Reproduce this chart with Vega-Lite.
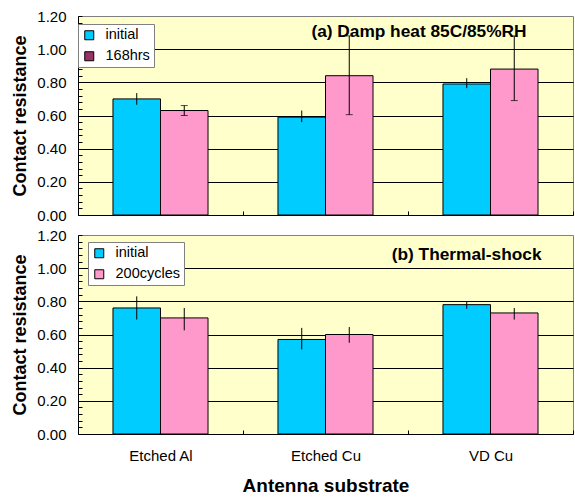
{
  "$schema": "https://vega.github.io/schema/vega-lite/v6.json",
  "background": "white",
  "padding": {"left": 11, "top": 8, "right": 0, "bottom": 5},
  "config": {
    "font": "Liberation Sans",
    "view": {"fill": "#FFFFCC", "stroke": "#808080", "strokeWidth": 1},
    "concat": {"spacing": 3},
    "axis": {
      "domainColor": "black",
      "domainWidth": 1,
      "tickColor": "black",
      "labelColor": "black",
      "titleColor": "black",
      "labelFont": "Liberation Sans",
      "titleFont": "Liberation Sans",
      "labelFontSize": 15,
      "titleFontSize": 18,
      "titleFontWeight": "bold"
    },
    "legend": {
      "labelFont": "Liberation Sans",
      "labelFontSize": 14.5,
      "labelColor": "black",
      "symbolType": "square",
      "symbolSize": 81,
      "symbolStrokeColor": "black",
      "symbolStrokeWidth": 1,
      "strokeColor": "#808080",
      "fillColor": "white",
      "padding": 4,
      "rowPadding": 6,
      "labelOffset": 9
    },
    "title": {"font": "Liberation Sans", "fontSize": 17.3, "fontWeight": "bold", "color": "black"}
  },
  "resolve": {"scale": {"fill": "independent", "xOffset": "independent"}, "legend": {"fill": "independent"}},
  "datasets": {
    "a": [
      {"substrate": "Etched Al", "series": "initial", "value": 0.70, "lo": 0.665, "hi": 0.735},
      {"substrate": "Etched Al", "series": "168hrs", "value": 0.63, "lo": 0.60, "hi": 0.66},
      {"substrate": "Etched Cu", "series": "initial", "value": 0.59, "lo": 0.56, "hi": 0.63},
      {"substrate": "Etched Cu", "series": "168hrs", "value": 0.84, "lo": 0.605, "hi": 1.08},
      {"substrate": "VD Cu", "series": "initial", "value": 0.79, "lo": 0.765, "hi": 0.825},
      {"substrate": "VD Cu", "series": "168hrs", "value": 0.88, "lo": 0.69, "hi": 1.08}
    ],
    "b": [
      {"substrate": "Etched Al", "series": "initial", "value": 0.76, "lo": 0.69, "hi": 0.83},
      {"substrate": "Etched Al", "series": "200cycles", "value": 0.70, "lo": 0.625, "hi": 0.76},
      {"substrate": "Etched Cu", "series": "initial", "value": 0.57, "lo": 0.51, "hi": 0.64},
      {"substrate": "Etched Cu", "series": "200cycles", "value": 0.60, "lo": 0.55, "hi": 0.645},
      {"substrate": "VD Cu", "series": "initial", "value": 0.78, "lo": 0.755, "hi": 0.80},
      {"substrate": "VD Cu", "series": "200cycles", "value": 0.73, "lo": 0.69, "hi": 0.76}
    ]
  },
  "vconcat": [
    {
      "width": 495,
      "height": 199,
      "data": {"name": "a"},
      "title": {"text": "(a) Damp heat 85C/85%RH", "orient": "top", "anchor": "end", "offset": -31, "dx": -47},
      "resolve": {"axis": {"y": "independent"}},
      "encoding": {
        "x": {
          "field": "substrate", "type": "nominal", "sort": ["Etched Al", "Etched Cu", "VD Cu"],
          "scale": {"paddingInner": 0.424, "paddingOuter": 0.212},
          "axis": {"labels": false, "title": null, "tickOffset": 82.5, "tickSize": -4, "domainColor": "black"}
        },
        "xOffset": {"field": "series", "type": "nominal", "sort": ["initial", "168hrs"]}
      },
      "layer": [
        {
          "mark": {"type": "bar", "stroke": "black", "strokeWidth": 1},
          "encoding": {
            "y": {
              "field": "value", "type": "quantitative",
              "scale": {"domain": [0, 1.2], "nice": false},
              "axis": {"orient": "left", "values": [0.2, 0.4, 0.6, 0.8, 1.0], "grid": true, "gridColor": "black", "gridWidth": 1, "gridOpacity": 1, "ticks": false, "labels": false, "domain": false, "title": null}
            },
            "fill": {
              "condition": {"test": "datum.series === '168hrs'", "value": "#FF99CC"},
              "field": "series", "type": "nominal",
              "scale": {"domain": ["initial", "168hrs"], "range": ["#00CCFF", "#993366"]},
              "legend": {"title": null, "orient": "none", "legendX": 0, "legendY": 8}
            }
          }
        },
        {
          "mark": {"type": "rule", "color": "black", "strokeWidth": 1},
          "encoding": {
            "y": {
              "field": "lo", "type": "quantitative",
              "axis": {
                "orient": "left",
                "title": "Contact resistance",
                "titlePadding": 7,
                "values": [0,0.04,0.08,0.12,0.16,0.2,0.24,0.28,0.32,0.36,0.4,0.44,0.48,0.52,0.56,0.6,0.64,0.68,0.72,0.76,0.8,0.84,0.88,0.92,0.96,1,1.04,1.08,1.12,1.16,1.2],
                "labelExpr": "round(datum.value * 100) % 20 === 0 ? format(datum.value, '.2f') : ''",
                "labelOverlap": false,
                "grid": false,
                "tickSize": -4,
                "labelPadding": 16
              }
            },
            "y2": {"field": "hi"}
          }
        },
        {
          "transform": [{"filter": "datum.series === '168hrs'"}],
          "mark": {"type": "tick", "orient": "horizontal", "size": 7, "thickness": 1, "color": "black"},
          "encoding": {"y": {"field": "lo", "type": "quantitative", "axis": null}}
        },
        {
          "transform": [{"filter": "datum.series === '168hrs'"}],
          "mark": {"type": "tick", "orient": "horizontal", "size": 7, "thickness": 1, "color": "black"},
          "encoding": {"y": {"field": "hi", "type": "quantitative", "axis": null}}
        }
      ]
    },
    {
      "width": 495,
      "height": 199,
      "data": {"name": "b"},
      "title": {"text": "(b) Thermal-shock", "orient": "top", "anchor": "end", "offset": -35, "dx": -32},
      "resolve": {"axis": {"y": "independent"}},
      "encoding": {
        "x": {
          "field": "substrate", "type": "nominal", "sort": ["Etched Al", "Etched Cu", "VD Cu"],
          "scale": {"paddingInner": 0.424, "paddingOuter": 0.212},
          "axis": {"title": "Antenna substrate", "titleFontSize": 19, "labelAngle": 0, "tickOffset": 82.5, "labelOffset": -82.5, "tickSize": -4, "labelPadding": 18, "titlePadding": 13}
        },
        "xOffset": {"field": "series", "type": "nominal", "sort": ["initial", "200cycles"]}
      },
      "layer": [
        {
          "mark": {"type": "bar", "stroke": "black", "strokeWidth": 1},
          "encoding": {
            "y": {
              "field": "value", "type": "quantitative",
              "scale": {"domain": [0, 1.2], "nice": false},
              "axis": {"orient": "left", "values": [0.2, 0.4, 0.6, 0.8, 1.0], "grid": true, "gridColor": "black", "gridWidth": 1, "gridOpacity": 1, "ticks": false, "labels": false, "domain": false, "title": null}
            },
            "fill": {
              "field": "series", "type": "nominal",
              "scale": {"domain": ["initial", "200cycles"], "range": ["#00CCFF", "#FF99CC"]},
              "legend": {"title": null, "orient": "none", "legendX": 10, "legendY": 7}
            }
          }
        },
        {
          "mark": {"type": "rule", "color": "black", "strokeWidth": 1},
          "encoding": {
            "y": {
              "field": "lo", "type": "quantitative",
              "axis": {
                "orient": "left",
                "title": "Contact resistance",
                "titlePadding": 7,
                "values": [0,0.04,0.08,0.12,0.16,0.2,0.24,0.28,0.32,0.36,0.4,0.44,0.48,0.52,0.56,0.6,0.64,0.68,0.72,0.76,0.8,0.84,0.88,0.92,0.96,1,1.04,1.08,1.12,1.16,1.2],
                "labelExpr": "round(datum.value * 100) % 20 === 0 ? format(datum.value, '.2f') : ''",
                "labelOverlap": false,
                "grid": false,
                "tickSize": -4,
                "labelPadding": 16
              }
            },
            "y2": {"field": "hi"}
          }
        }
      ]
    }
  ]
}
